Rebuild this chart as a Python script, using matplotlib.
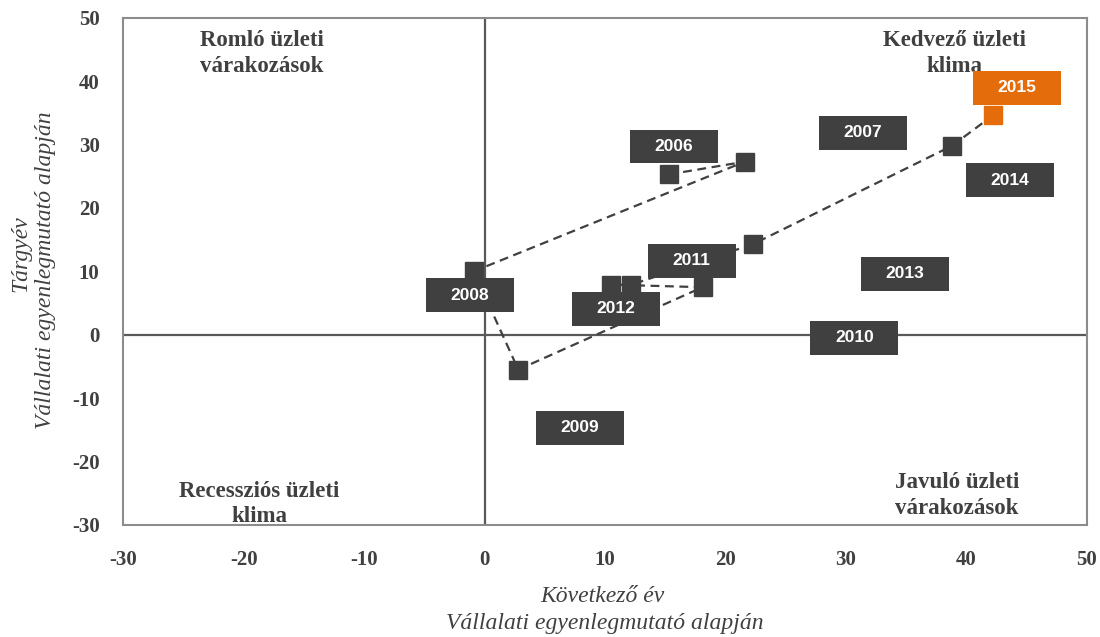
import matplotlib
matplotlib.use("Agg")
import matplotlib.pyplot as plt
from matplotlib.patches import Rectangle

plt.rcParams["axes.unicode_minus"] = False

# Data
years = ["2006", "2007", "2008", "2009", "2010", "2011", "2012", "2013", "2014", "2015"]
next_year = [15.3, 21.6, -0.9, 2.8, 18.1, 10.5, 12.2, 22.3, 38.8, 42.2]
current_year = [25.3, 27.3, 10.0, -5.5, 7.5, 7.9, 7.9, 14.3, 29.8, 34.6]
label_x = [15.7, 31.4, -1.2, 7.9, 30.7, 17.2, 10.9, 34.9, 43.6, 44.2]
label_y = [29.7, 31.9, 6.2, -14.7, -0.5, 11.7, 4.1, 9.6, 24.4, 39.0]

quadrant_texts = ["Romló üzleti\nvárakozások", "Kedvező üzleti\nklima",
                  "Recessziós üzleti\nklima", "Javuló üzleti\nvárakozások"]
quadrant_x = [-18.5, 39.0, -18.7, 39.2]
quadrant_y = [44.4, 44.4, -26.7, -25.4]

xticks = [-30, -20, -10, 0, 10, 20, 30, 40, 50]
yticks = [-30, -20, -10, 0, 10, 20, 30, 40, 50]

DARK = "#404040"
ORANGE = "#E46C0A"
SERIF = ["Liberation Serif", "DejaVu Serif"]

fig = plt.figure(figsize=(11, 6.37), dpi=100)
ax = fig.add_axes([0.112, 0.176, 0.876, 0.796])
ax.set_xlim(-30, 50)
ax.set_ylim(-30, 50)

for s in ax.spines.values():
    s.set_color("#8c8c8c")
    s.set_linewidth(1.5)

ax.axhline(0, color="#595959", lw=1.6, zorder=1)
ax.axvline(0, color="#595959", lw=1.6, zorder=1)

ax.plot(next_year, current_year, ls=(0, (4, 2.5)), color=DARK, lw=1.6, zorder=2)
colors = [DARK] * (len(years) - 1) + [ORANGE]
for xv, yv, c in zip(next_year, current_year, colors):
    ax.plot(xv, yv, marker="s", ms=13, color=c, mec=c, ls="none", zorder=3)

# label boxes
w = 7.3
h = 5.36
for yr, lx, ly, c in zip(years, label_x, label_y, colors):
    ax.add_patch(Rectangle((lx - w / 2, ly - h / 2), w, h, facecolor=c,
                           edgecolor="none", zorder=4))
    ax.text(lx, ly, yr, ha="center", va="center", color="white",
            fontsize=12.5, fontweight="bold", family="Liberation Sans", zorder=5)

for t, qx, qy in zip(quadrant_texts, quadrant_x, quadrant_y):
    ax.text(qx, qy, t, ha="center", va="center", color=DARK, fontsize=16.5,
            fontweight="bold", family=SERIF, linespacing=1.3, zorder=2)

ax.set_xticks(xticks)
ax.set_yticks(yticks)
ax.tick_params(length=0, labelcolor=DARK)
ax.tick_params(axis="x", pad=18)
ax.tick_params(axis="y", pad=17)
for lab in ax.get_xticklabels() + ax.get_yticklabels():
    lab.set_family(SERIF)
    lab.set_fontweight("bold")
    lab.set_fontsize(15)

fig.text(602 / 1100, 1 - 596 / 637, "Következő év", ha="center", va="center",
         fontsize=17, style="italic", family=SERIF, color=DARK)
fig.text(605 / 1100, 1 - 624 / 637, "Vállalati egyenlegmutató alapján",
         ha="center", va="center", fontsize=17, style="italic", family=SERIF,
         color=DARK)
fig.text(21 / 1100, 1 - 254 / 637, "Tárgyév", ha="center", va="center",
         rotation=90, fontsize=17, style="italic", family=SERIF, color=DARK)
fig.text(46 / 1100, 1 - 270 / 637, "Vállalati egyenlegmutató alapján",
         ha="center", va="center", rotation=90, fontsize=17, style="italic",
         family=SERIF, color=DARK)

fig.savefig("out.png", dpi=100)
